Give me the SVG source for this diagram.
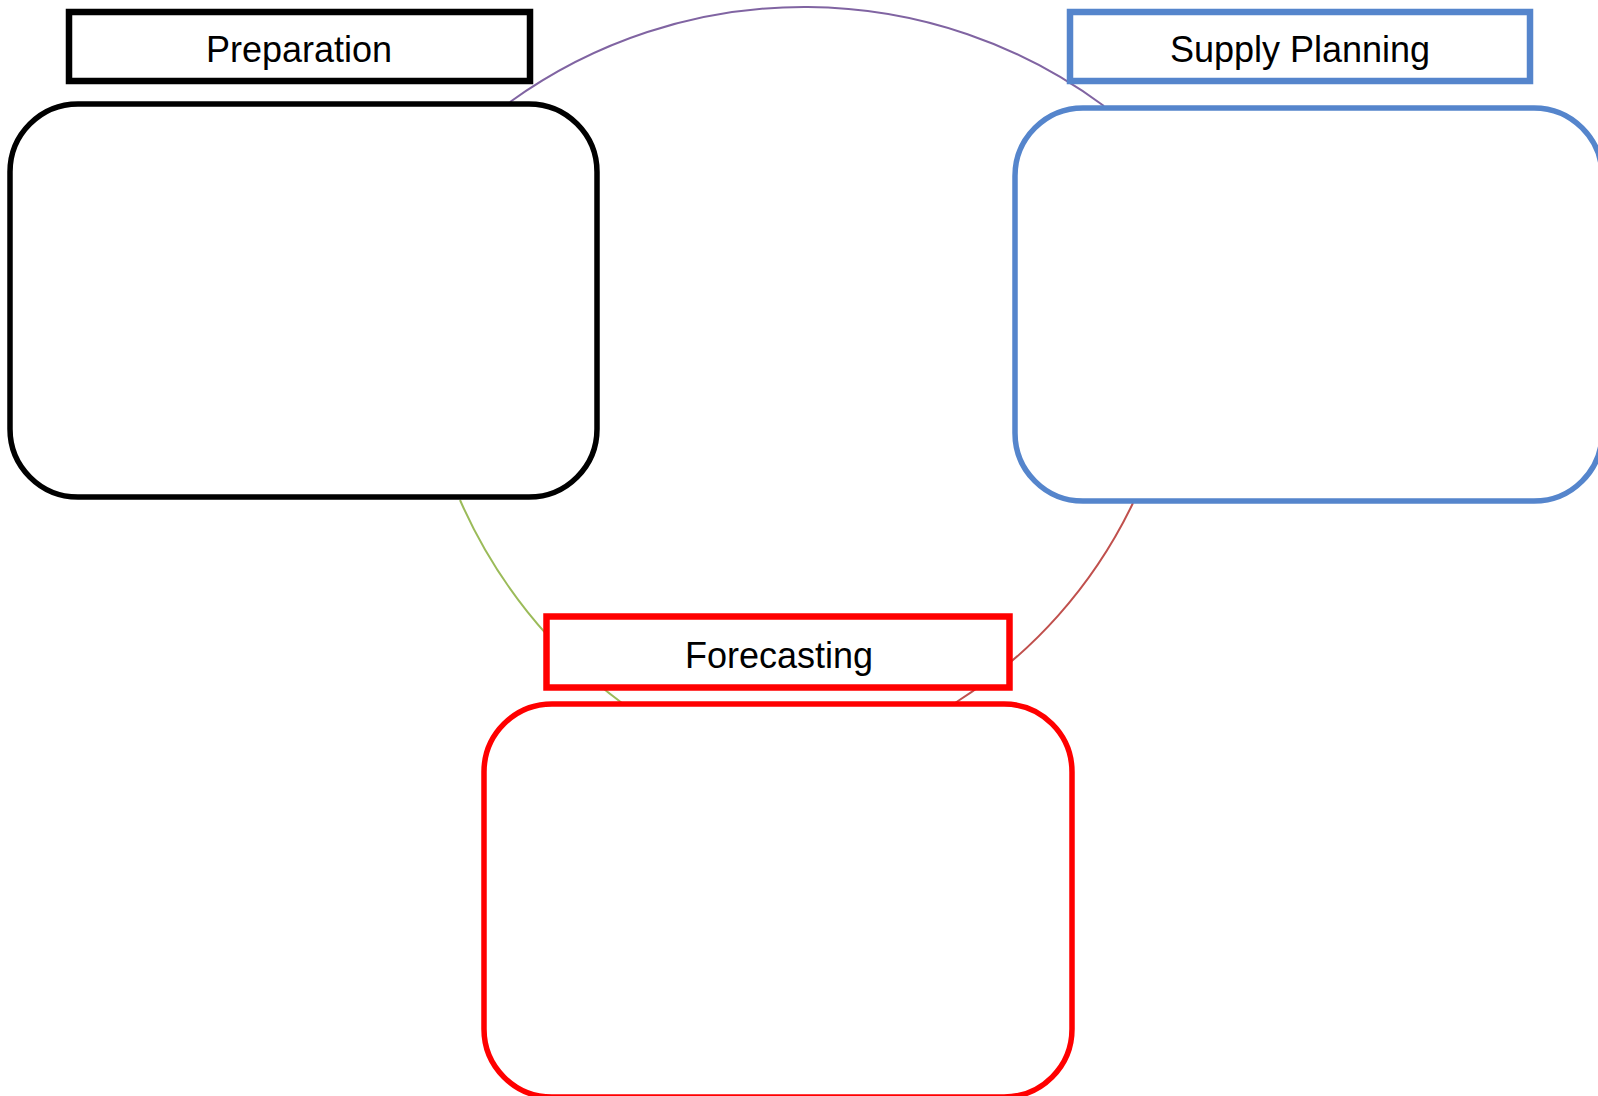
<svg xmlns="http://www.w3.org/2000/svg" width="1598" height="1096" viewBox="0 0 1598 1096">
<style>
.lbl{fill:#ffffff;stroke-width:6.5}
.box{fill:#ffffff;stroke-width:5.5}
.txt{font-family:"Liberation Sans",Arial,sans-serif;font-size:36px;fill:#000000;text-anchor:middle}
.arc{fill:none;stroke-width:2}
</style>
<rect x="0" y="0" width="1598" height="1096" fill="#ffffff"/>
<g id="connectors">
<path class="arc" stroke="#8064a2" d="M510,102 A503,503 0 0 1 1104,106"/>
<path class="arc" stroke="#9bbb59" d="M460,500 A503,503 0 0 0 622,703"/>
<path class="arc" stroke="#c0504d" d="M1133,503 A483,483 0 0 1 955,703"/>
</g>
<g id="preparation">
<rect class="box" x="10" y="104" width="587" height="393" rx="68" ry="68" stroke="#000000"/>
<rect class="lbl" x="69" y="12" width="461" height="69" stroke="#000000"/>
<text class="txt" x="299" y="62">Preparation</text>
</g>
<g id="supply-planning">
<rect class="box" x="1015" y="108" width="587" height="393" rx="68" ry="68" stroke="#5585cc"/>
<rect class="lbl" x="1070" y="12" width="460" height="69" stroke="#5585cc"/>
<text class="txt" x="1300" y="62">Supply Planning</text>
</g>
<g id="forecasting">
<rect class="box" x="484" y="704" width="588" height="393" rx="68" ry="68" stroke="#ff0000"/>
<rect class="lbl" x="546.5" y="616.5" width="463" height="71" stroke="#ff0000"/>
<text class="txt" x="779" y="668">Forecasting</text>
</g>
</svg>
